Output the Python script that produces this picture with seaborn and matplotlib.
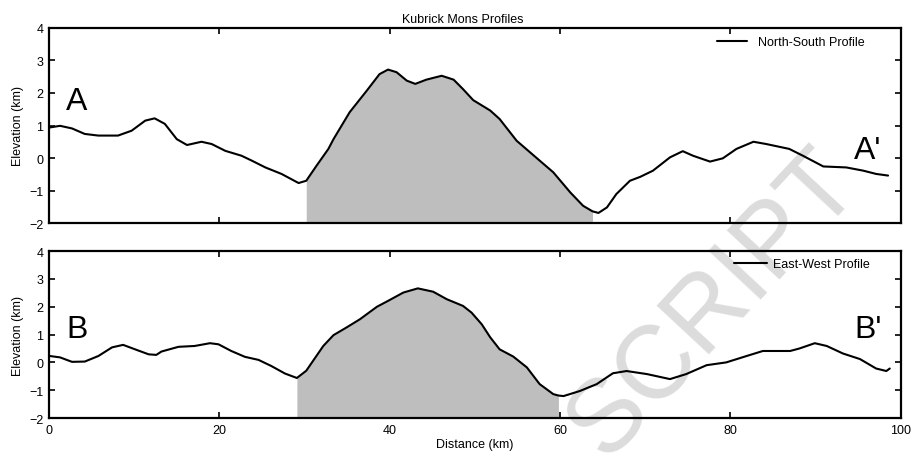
import matplotlib
matplotlib.use("Agg")
import matplotlib.pyplot as plt
import pandas as pd
import seaborn as sns

# North-South profile (distance km, elevation km)
ns_dist = [0.1, 1.3, 2.7, 4.2, 5.8, 8.1, 9.7, 11.3, 12.4, 13.6, 15.0, 16.2, 17.9, 19.1, 20.7,
           22.6, 23.8, 25.4, 27.3, 29.3, 30.2, 31.4, 32.8, 33.4, 35.3, 37.3, 38.8, 39.8, 40.8,
           42.0, 43.0, 44.3, 46.1, 47.5, 48.6, 49.8, 51.8, 52.9, 54.9, 57.6, 59.2, 61.2, 62.7,
           63.8, 64.5, 65.5, 66.6, 68.2, 69.4, 70.9, 72.9, 74.4, 75.6, 77.6, 79.1, 80.7, 82.7,
           84.2, 86.9, 88.5, 90.9, 93.6, 95.6, 97.1, 98.5]
ns_elev = [0.94, 0.99, 0.91, 0.74, 0.69, 0.69, 0.84, 1.15, 1.22, 1.05, 0.58, 0.40, 0.50, 0.43, 0.22,
           0.07, -0.08, -0.29, -0.49, -0.77, -0.70, -0.24, 0.28, 0.58, 1.41, 2.07, 2.58, 2.72, 2.64,
           2.38, 2.28, 2.41, 2.53, 2.41, 2.12, 1.78, 1.46, 1.20, 0.53, -0.08, -0.44, -1.06, -1.47,
           -1.64, -1.69, -1.52, -1.11, -0.70, -0.58, -0.39, 0.02, 0.21, 0.07, -0.11, -0.01, 0.28, 0.50,
           0.43, 0.28, 0.07, -0.26, -0.29, -0.39, -0.49, -0.54]

# East-West profile
ew_dist = [0.1, 1.3, 2.7, 4.2, 5.8, 7.4, 8.7, 10.1, 11.7, 12.6, 13.2, 15.2, 17.1, 18.9, 19.9,
           21.4, 23.0, 24.6, 26.1, 27.7, 29.1, 30.2, 32.2, 33.4, 34.9, 36.5, 38.5, 39.8, 41.6,
           43.3, 45.1, 46.7, 48.6, 49.6, 50.8, 51.8, 52.9, 54.5, 56.1, 57.6, 59.2, 59.8, 60.4,
           62.3, 64.3, 66.2, 67.8, 70.2, 72.9, 74.8, 77.2, 79.5, 81.9, 83.8, 87.0, 88.1, 89.9,
           91.3, 93.2, 95.2, 97.1, 98.3, 98.7]
ew_elev = [0.23, 0.18, 0.02, 0.03, 0.23, 0.54, 0.63, 0.47, 0.29, 0.27, 0.39, 0.56, 0.59, 0.69, 0.65,
           0.41, 0.20, 0.09, -0.13, -0.40, -0.56, -0.30, 0.59, 0.98, 1.25, 1.55, 2.00, 2.21, 2.51,
           2.66, 2.54, 2.27, 2.03, 1.79, 1.37, 0.90, 0.47, 0.21, -0.18, -0.78, -1.14, -1.19, -1.21,
           -1.03, -0.78, -0.39, -0.31, -0.42, -0.60, -0.42, -0.10, 0.00, 0.23, 0.41, 0.41, 0.50, 0.69,
           0.59, 0.32, 0.12, -0.22, -0.31, -0.22]

ns_fill = (30.2, 63.8)
ew_fill = (29.1, 59.8)

ns = pd.DataFrame({"Distance": ns_dist, "Elevation": ns_elev})
ew = pd.DataFrame({"Distance": ew_dist, "Elevation": ew_elev})

sns.set_style("ticks", {"axes.edgecolor": "black", "xtick.color": "black",
                        "ytick.color": "black", "text.color": "black",
                        "axes.labelcolor": "black"})
plt.rcParams["font.family"] = ["Liberation Sans", "DejaVu Sans"]

fig = plt.figure(figsize=(9.14, 4.60), dpi=100)
ax1 = fig.add_axes([0.0536, 0.513, 0.932, 0.424])
ax2 = fig.add_axes([0.0536, 0.089, 0.932, 0.363])

# faint watermark sitting behind the plots
fig.text(0.782, 0.337, "SCRIPT", rotation=47, ha="center", va="center",
         fontsize=74, color="#dcdcdc", zorder=-5)

panels = [
    (ax1, ns, ns_fill, "North-South Profile", ("A", 2.0, 1.5), ("A'", 94.5, 0.0)),
    (ax2, ew, ew_fill, "East-West Profile", ("B", 2.0, 0.9), ("B'", 94.5, 0.93)),
]

for ax, df, fill, lab, left, right in panels:
    ax.set_facecolor("none")
    mask = (df["Distance"] >= fill[0]) & (df["Distance"] <= fill[1])
    ax.fill_between(df["Distance"], df["Elevation"], -2, where=mask,
                    color="#bebebe", linewidth=0, zorder=1)
    sns.lineplot(data=df, x="Distance", y="Elevation", ax=ax, color="black",
                 linewidth=1.5, label=lab, zorder=3)
    ax.set_xlim(0, 100)
    ax.set_ylim(-2, 4)
    ax.set_xticks([0, 20, 40, 60, 80, 100])
    ax.set_yticks([-2, -1, 0, 1, 2, 3, 4])
    ax.tick_params(direction="in", top=True, right=True, length=4, width=1.2,
                   labelsize=9, pad=4)
    for s in ax.spines.values():
        s.set_linewidth(1.6)
    ax.set_ylabel("Elevation (km)", fontsize=9, labelpad=4)
    ax.text(left[1], left[2], left[0], fontsize=23, ha="left", va="baseline")
    ax.text(right[1], right[2], right[0], fontsize=23, ha="left", va="baseline")

ax1.set_xlabel("")
ax1.set_xticklabels([])
ax2.set_xlabel("Distance (km)", fontsize=9, labelpad=2)
ax1.set_title("Kubrick Mons Profiles", fontsize=9, pad=4, x=0.486)

ax1.legend(loc="center right", frameon=False, fontsize=9, handlelength=2.4,
           handletextpad=0.9, borderpad=0, borderaxespad=0,
           bbox_to_anchor=(0.958, 0.928))
ax2.legend(loc="center right", frameon=False, fontsize=9, handlelength=2.6,
           handletextpad=0.55, borderpad=0, borderaxespad=0,
           bbox_to_anchor=(0.964, 0.922))

fig.savefig("out.png", dpi=100)
